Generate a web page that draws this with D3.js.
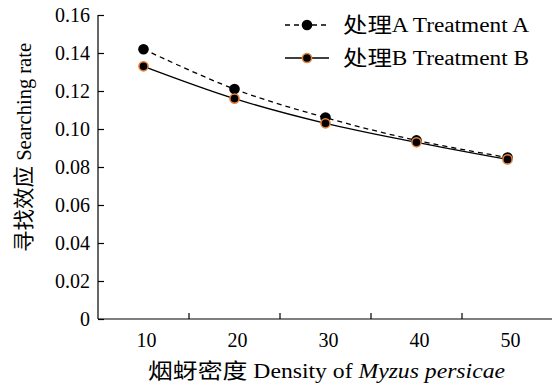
<!DOCTYPE html>
<html>
<head>
<meta charset="utf-8">
<script src="https://cdn.jsdelivr.net/npm/d3@7"></script>
<style>
  body { margin: 0; background: #fff; }
</style>
</head>
<body>
<svg width="552" height="385" font-family="'Liberation Serif', 'DejaVu Serif', serif"></svg>
<script>
var densities = ["10", "20", "30", "40", "50"];
var treatmentA = [0.142, 0.121, 0.106, 0.094, 0.085];
var treatmentB = [0.133, 0.116, 0.103, 0.093, 0.084];
var yTicks = [0, 0.02, 0.04, 0.06, 0.08, 0.10, 0.12, 0.14, 0.16];
var seriesCn = ["处理", "处理"];
var seriesEn = ["A Treatment A", "B Treatment B"];

var svg = d3.select("svg");
var orange = "#e8843a";
var cjkFont = "'Noto Sans CJK SC', sans-serif";

var x = d3.scaleBand().domain(densities).range([98, 553]),
    y = d3.scaleLinear().domain([0, 0.16]).range([319, 15]);

// x axis: ticks between the bands, pointing up
var xAxis = svg.append("g").attr("transform", "translate(0,319)");
xAxis.append("line").attr("x1", 98).attr("x2", 552).attr("y1", 0).attr("y2", 0)
  .attr("stroke", "#000").attr("stroke-width", 1.2);
xAxis.selectAll(".xt").data(densities.slice(1)).enter().append("line")
  .attr("x1", function(d) { return x(d); }).attr("x2", function(d) { return x(d); })
  .attr("y1", 0).attr("y2", -6).attr("stroke", "#000").attr("stroke-width", 1.2);
xAxis.selectAll(".xl").data(densities).enter().append("text")
  .attr("x", function(d) { return x(d) + x.bandwidth() / 2 + 3; })
  .attr("y", 28).attr("text-anchor", "middle").attr("font-size", 20)
  .text(function(d) { return d; });

// y axis
var yAxis = svg.append("g").attr("transform", "translate(98,0)")
  .call(d3.axisRight(y).tickValues(yTicks).tickSize(6).tickFormat(""));
yAxis.attr("font-family", null);
yAxis.select(".domain").attr("d", "M0," + y(0.16) + "V" + y(0)).attr("stroke-width", 1.2);
yAxis.selectAll(".tick line").attr("stroke-width", 1.2);
svg.selectAll(".yl").data(yTicks).enter().append("text")
  .attr("x", 90).attr("y", function(d) { return y(d) + 7; })
  .attr("text-anchor", "end").attr("font-size", 20)
  .text(function(d) { return d === 0 ? "0" : d3.format(".2f")(d); });

// axis titles
var xt = svg.append("text").attr("x", 148).attr("y", 378).attr("font-size", 20)
  .attr("textLength", 357).attr("lengthAdjust", "spacingAndGlyphs");
xt.append("tspan").attr("font-family", cjkFont).attr("font-size", 21).text("烟蚜密度");
xt.append("tspan").text(" Density of ");
xt.append("tspan").attr("font-style", "italic").text("Myzus persicae");

var yt = svg.append("text").attr("transform", "translate(31,252) rotate(-90)")
  .attr("font-size", 20)
  .attr("textLength", 209).attr("lengthAdjust", "spacingAndGlyphs");
yt.append("tspan").attr("font-family", cjkFont).attr("font-size", 21).text("寻找效应");
yt.append("tspan").text(" Searching rate");

// lines
var line = d3.line()
  .x(function(d, i) { return x(densities[i]) + x.bandwidth() / 2; })
  .y(function(d) { return y(d); })
  .curve(d3.curveCatmullRom.alpha(0.5));

svg.append("path").datum(treatmentA).attr("d", line)
  .attr("fill", "none").attr("stroke", "#000").attr("stroke-width", 1.3)
  .attr("stroke-dasharray", "5,4");
svg.append("path").datum(treatmentB).attr("d", line)
  .attr("fill", "none").attr("stroke", "#000").attr("stroke-width", 1.3);

svg.selectAll(".ma").data(treatmentA).enter().append("circle")
  .attr("cx", function(d, i) { return x(densities[i]) + x.bandwidth() / 2; })
  .attr("cy", function(d) { return y(d); })
  .attr("r", 5.3).attr("fill", "#000");
svg.selectAll(".mb").data(treatmentB).enter().append("circle")
  .attr("cx", function(d, i) { return x(densities[i]) + x.bandwidth() / 2; })
  .attr("cy", function(d) { return y(d); })
  .attr("r", 4.6).attr("fill", "#000").attr("stroke", orange).attr("stroke-width", 1.5);

// legend
var legend = svg.append("g");
seriesEn.forEach(function(name, i) {
  var ly = 25 + i * 33;
  legend.append("line").attr("x1", 285).attr("x2", 329).attr("y1", ly).attr("y2", ly)
    .attr("stroke", "#000").attr("stroke-width", 1.3)
    .attr("stroke-dasharray", i === 0 ? "5,4" : null);
  var c = legend.append("circle").attr("cx", 307).attr("cy", ly).attr("fill", "#000");
  if (i === 0) c.attr("r", 5.3);
  else c.attr("r", 4.6).attr("stroke", orange).attr("stroke-width", 1.5);
  var t = legend.append("text").attr("x", 343).attr("y", ly + 6.5).attr("font-size", 20)
    .attr("textLength", 186).attr("lengthAdjust", "spacingAndGlyphs");
  t.append("tspan").attr("font-family", cjkFont).attr("font-size", 21).text(seriesCn[i]);
  t.append("tspan").text(name);
});
</script>
</body>
</html>
